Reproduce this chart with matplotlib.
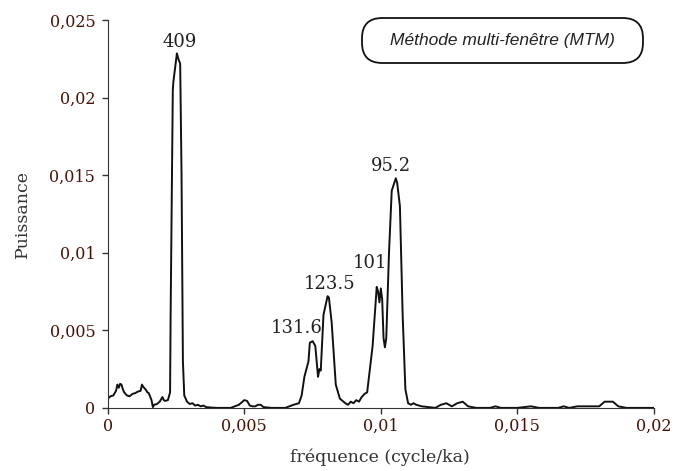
import matplotlib
matplotlib.use("Agg")
import matplotlib.pyplot as plt
from matplotlib.patches import FancyBboxPatch

# MTM spectrum
freq = [0.0000, 0.0001, 0.0002, 0.0003, 0.00035, 0.0004, 0.00045, 0.0005, 0.00055, 0.0006,
        0.0007, 0.0008, 0.0009, 0.0010, 0.0011, 0.0012, 0.00125, 0.0013, 0.00135, 0.0014,
        0.00145, 0.0015, 0.0016, 0.00165, 0.0017, 0.0018, 0.0019, 0.0020, 0.00205, 0.0021,
        0.0022, 0.00228, 0.0023, 0.00238, 0.0024, 0.00253, 0.0026, 0.00265, 0.0027, 0.00275,
        0.0028, 0.0029, 0.0030, 0.0031, 0.0032, 0.0033, 0.0034, 0.0035, 0.0036, 0.0038,
        0.0040, 0.0045, 0.0048, 0.0050, 0.0051, 0.0052, 0.0053, 0.0054, 0.0055, 0.0056,
        0.0057, 0.0060, 0.0065, 0.0068, 0.0070, 0.0071, 0.0072, 0.00735, 0.0074, 0.0075,
        0.0076, 0.0077, 0.00775, 0.0078, 0.0079, 0.0080, 0.00805, 0.0081, 0.0082, 0.00835,
        0.0085, 0.0087, 0.0088, 0.0089, 0.0090, 0.0091, 0.0092, 0.0093, 0.0094, 0.0095,
        0.0096, 0.0097, 0.0098, 0.00985, 0.0099, 0.00995, 0.0100, 0.01005, 0.0101, 0.01015,
        0.0102, 0.0103, 0.0104, 0.01055, 0.0106, 0.0107, 0.0108, 0.0109, 0.0110, 0.0111,
        0.0112, 0.0113, 0.0115, 0.0120, 0.0122, 0.0124, 0.0126, 0.0128, 0.0130, 0.0132,
        0.0135, 0.0140, 0.0142, 0.0144, 0.0150, 0.0155, 0.0158, 0.0165, 0.0167, 0.0169,
        0.0172, 0.0180, 0.0182, 0.0185, 0.0187, 0.0190, 0.0200]
power = [0.00060, 0.00075, 0.00080, 0.00110, 0.00150, 0.00130, 0.00155, 0.00150, 0.00120, 0.00100,
         0.00080, 0.00075, 0.00090, 0.00095, 0.00105, 0.00110, 0.00150, 0.00135, 0.00125, 0.00115,
         0.00100, 0.00095, 0.00050, 0.00005, 0.00020, 0.00025, 0.00040, 0.00070, 0.00050, 0.00045,
         0.00050, 0.00100, 0.0060, 0.0205, 0.0210, 0.02285, 0.0224, 0.0222, 0.0150, 0.0030,
         0.0008, 0.0004, 0.00025, 0.00030, 0.00015, 0.00020, 0.00010, 0.00015, 0.00005, 0.00002,
         0.0, 0.0, 0.00020, 0.00050, 0.00045, 0.00015, 0.00010, 0.00010, 0.00020, 0.00020,
         0.00005, 0.0, 0.0, 0.00020, 0.00030, 0.00080, 0.0020, 0.0030, 0.0042, 0.0043,
         0.0040, 0.0020, 0.0025, 0.0024, 0.0060, 0.0068, 0.0072, 0.0071, 0.0055, 0.0015,
         0.0006, 0.0003, 0.0002, 0.0004, 0.0003, 0.0005, 0.0004, 0.0007, 0.0009, 0.0010,
         0.0025, 0.0040, 0.0065, 0.0078, 0.0075, 0.0068, 0.0077, 0.0070, 0.0045, 0.0039,
         0.0045, 0.0100, 0.0140, 0.0148, 0.0145, 0.0130, 0.0060, 0.0012, 0.0003, 0.0002,
         0.0003, 0.0002, 0.0001, 0.0, 0.0002, 0.0003, 0.0001, 0.0003, 0.0004, 0.0001,
         0.0, 0.0, 0.0001, 0.0, 0.0, 0.0001, 0.0, 0.0, 0.0001, 0.0,
         0.0001, 0.0001, 0.0004, 0.0004, 0.0001, 0.0, 0.0]

# peak labels (period in ka) and where they sit
peak_labels = ["409", "131.6", "123.5", "101", "95.2"]
peak_x = [0.00264, 0.00692, 0.00813, 0.0096, 0.01037]
peak_y = [0.0230, 0.00455, 0.0074, 0.00875, 0.0150]

xticks = [0, 0.005, 0.01, 0.015, 0.02]
xtick_labels = ["0", "0,005", "0,01", "0,015", "0,02"]
yticks = [0, 0.005, 0.01, 0.015, 0.02, 0.025]
ytick_labels = ["0", "0,005", "0,01", "0,015", "0,02", "0,025"]

tick_col = "#4a1206"

fig = plt.figure(figsize=(6.74, 4.71), dpi=100)
ax = fig.add_axes([0.160, 0.134, 0.810, 0.8235])

ax.plot(freq, power, color="#111111", lw=1.4)

for lab, x, y in zip(peak_labels, peak_x, peak_y):
  ax.text(x, y, lab, ha="center", va="bottom", fontsize=13,
          family="DejaVu Serif", color="#222222")

ax.set_xlim(0, 0.02)
ax.set_ylim(0, 0.025)
ax.set_xticks(xticks)
ax.set_xticklabels(xtick_labels, family="DejaVu Serif", fontsize=11.5,
                   color=tick_col)
ax.set_yticks(yticks)
ax.set_yticklabels(ytick_labels, family="DejaVu Serif", fontsize=11.5,
                   color=tick_col)
ax.tick_params(direction="out", length=4, width=1, colors="#333333",
               labelcolor=tick_col, pad=5)
ax.tick_params(axis="x", pad=3)
for s in ["top", "right"]:
  ax.spines[s].set_visible(False)
for s in ["left", "bottom"]:
  ax.spines[s].set_color("#333333")

# axis titles placed in figure pixels
fig.text(22/674, 1 - 214/471, "Puissance", rotation=90, ha="center",
         va="center", family="DejaVu Serif", fontsize=12.5, color="#333333")
fig.text(380/674, 1 - 457/471, "fréquence (cycle/ka)", ha="center",
         va="center", family="DejaVu Serif", fontsize=12.5, color="#333333")

# rounded title box (figure fraction coordinates)
box = FancyBboxPatch((362/674, 1 - 63/471), 281/674, 45/471,
                     boxstyle="round,pad=0,rounding_size=0.03",
                     mutation_aspect=674/471, transform=fig.transFigure,
                     fc="white", ec="#111111", lw=1.3)
fig.patches.append(box)
fig.text(502/674, 1 - 41/471, "Méthode multi-fenêtre (MTM)", ha="center",
         va="center", fontsize=12.5, style="italic",
         family="Liberation Sans", color="#222222")

fig.savefig("out.png", dpi=100)
